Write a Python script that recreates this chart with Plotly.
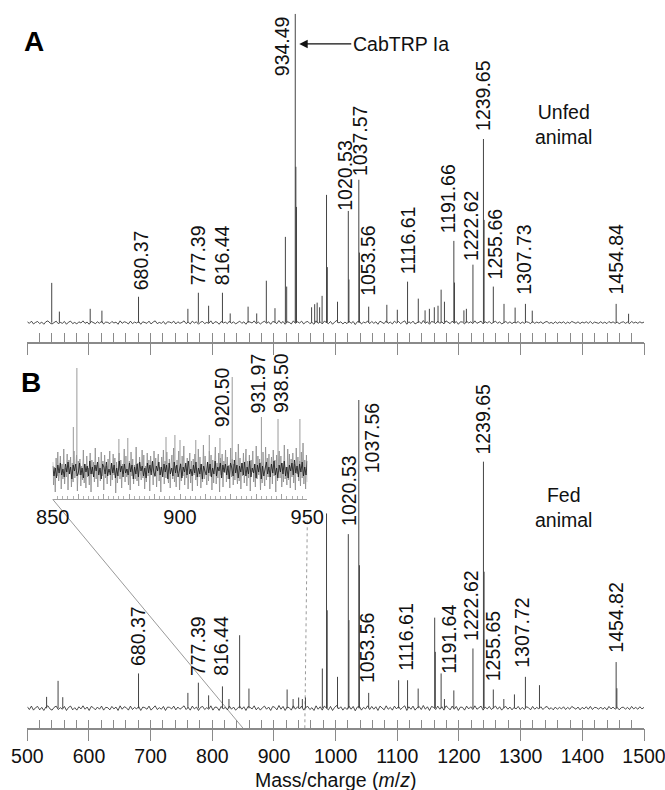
import plotly.graph_objects as go
import numpy as np

# ---------------- DATA ----------------
# Panel A (unfed animal): peak m/z and relative intensity (934.49 = 100)
a_peak_mz = [539.6, 552, 602, 621, 680.37, 760.4, 777.39, 794, 816.44, 829, 858, 872, 887.6, 901.6,
             918.5, 920.6, 934.49, 935.5, 936.5, 961, 966, 970, 974, 978, 985.2, 986.5, 1003,
             1020.53, 1021.5, 1037.57, 1038.6, 1053.56, 1083, 1100, 1116.61, 1134, 1145, 1152,
             1160, 1166, 1171, 1176.4, 1191.66, 1192.7, 1208, 1212, 1222.62, 1239.65, 1240.7,
             1255.66, 1273, 1291, 1307.73, 1318.8, 1454.84, 1475]
a_peak_int = [12.9, 3.6, 4.5, 3.9, 8.4, 4.5, 9.7, 5.5, 9.7, 3.0, 5.2, 3.0, 13.6, 4.7,
              27.8, 11.7, 100, 50.5, 37.5, 5.0, 6.0, 6.5, 5.0, 8.7, 41.4, 18.0, 6.8,
              36.2, 14.0, 46.3, 22.7, 5.2, 5.8, 4.2, 13.3, 7.8, 4.0, 4.5,
              5.0, 5.5, 10.7, 6.8, 26.5, 13.0, 4.0, 4.5, 18.8, 59.5, 33.3,
              11.7, 6.1, 4.9, 6.1, 3.9, 6.1, 2.9]
a_labels = ["680.37", "777.39", "816.44", "934.49", "1020.53", "1037.57", "1053.56",
            "1116.61", "1191.66", "1222.62", "1239.65", "1255.66", "1307.73", "1454.84"]

# Panel B (fed animal): peak m/z and relative intensity (1037.56 = 100)
b_peak_mz = [531.3, 549.9, 557.5, 680.37, 760.4, 777.39, 794, 816.44, 827, 844.3, 859.4, 921.3,
             931, 940, 946, 951, 978.4, 985.2, 986.3, 1003, 1020.53, 1021.5, 1037.56, 1038.6,
             1053.56, 1102.1, 1116.61, 1133.8, 1160.6, 1161.6, 1171, 1176.4, 1191.64, 1222.62,
             1239.65, 1240.7, 1255.65, 1272.7, 1289.9, 1307.72, 1330.5, 1454.82, 1456]
b_peak_int = [3.7, 8.9, 3.6, 11.3, 5.0, 8.3, 4.2, 7.1, 3.0, 23.7, 6.4, 6.1,
              3.0, 3.5, 3.0, 3.5, 12.9, 63.2, 31.8, 10.2, 56.5, 28.6, 100, 46.4,
              5.0, 9.1, 9.1, 6.4, 29.4, 18.3, 11.3, 3.0, 5.8, 19.4,
              80.0, 44.3, 6.1, 3.0, 4.5, 10.2, 7.5, 15.0, 6.5]
b_labels = ["680.37", "777.39", "816.44", "1020.53", "1037.56", "1053.56", "1116.61",
            "1191.64", "1222.62", "1239.65", "1255.65", "1307.72", "1454.82"]

# Inset of panel B (850-950 m/z, expanded intensity)
inset_peak_mz = [858.1, 859.5, 876, 879.5, 894.5, 898, 900, 906.2, 911.5, 915.7, 920.5, 931.97, 938.5, 947.1]
inset_peak_int = [43, 102, 31, 32, 33, 35, 30, 30, 35, 32, 93, 53, 51, 51]
inset_labels = ["920.50", "931.97", "938.50"]

a_noise = [
 0.3,-0.2,0.5,-0.4,0.1,0.4,-0.3,0.2,-0.5,0.3,0.6,-0.1,-0.4,0.2,0.5,-0.3,0.1,-0.2,0.4,-0.5,
 0.2,0.5,-0.3,0.1,-0.4,0.3,-0.1,0.6,-0.2,0.2,-0.5,0.4,0.1,-0.3,0.3,-0.2,0.5,-0.4,0.2,0.1,
 -0.3,0.4,-0.1,0.2,-0.5,0.6,-0.2,0.3,0.1,-0.4,0.5,-0.3,0.2,-0.1,0.4,-0.5,0.3,0.1,-0.2,0.5,
 -0.4,0.2,0.6,-0.3,0.1,-0.2,0.4,-0.5,0.3,0.2,-0.1,0.5,-0.4,0.3,-0.2,0.1,0.6,-0.3,0.2,-0.4,
 0.5,-0.1,0.3,-0.5,0.2,0.4,-0.3,0.1,-0.2,0.6,-0.4,0.3,0.2,-0.5,0.4,-0.1,0.2,-0.3,0.5,-0.2,
 0.3,-0.4,0.1,0.5,-0.2,0.3,-0.5,0.4,0.2,-0.1,0.6,-0.3,0.2,-0.4,0.1,0.5,-0.2,0.3,-0.5,0.4,
 0.2,-0.3,0.7,-0.2,0.4,-0.5,0.3,0.1,-0.4,0.6,-0.2,0.3,-0.1,0.5,-0.4,0.2,0.4,-0.3,0.1,-0.5,
 0.6,-0.2,0.3,-0.4,0.5,0.1,-0.3,0.4,-0.5,0.2,0.7,-0.1,0.3,-0.4,0.2,-0.3,0.5,-0.2,0.4,-0.6,
 0.3,0.5,-0.4,0.2,-0.1,0.6,-0.3,0.4,-0.2,0.3,-0.5,0.5,0.1,-0.3,0.6,-0.2,0.2,-0.4,0.5,-0.1,
 0.4,-0.3,0.2,0.6,-0.5,0.3,-0.2,0.5,-0.4,0.1,0.4,-0.3,0.7,-0.2,0.3,-0.5,0.4,0.2,-0.3,0.5,
 -0.2,0.3,-0.4,0.6,0.1,-0.3,0.5,-0.2,0.4,-0.5,0.3,0.2,-0.4,0.5,-0.1,0.3,-0.3,0.6,-0.2,0.2,
 0.5,-0.4,0.3,-0.1,0.4,-0.3,0.2,0.5,-0.2,0.3,-0.4,0.1,0.4,-0.2,0.3,-0.3,0.2,-0.1,0.4,-0.3,
 0.2,-0.2,0.3,0.1,-0.3,0.4,-0.2,0.2,-0.1,0.3,-0.3,0.2,0.4,-0.2,0.1,-0.3,0.3,-0.2,0.2,-0.1,
 0.3,-0.3,0.2,-0.2,0.4,0.1,-0.2,0.3,-0.3,0.2,-0.1,0.3,-0.2,0.4,-0.3,0.2,0.1,-0.2,0.3,-0.2,
 0.2,-0.3,0.4,-0.1,0.3,-0.2,0.2,-0.3,0.1,0.3,-0.2,0.2,-0.3,0.4,-0.1,0.2,-0.2,0.3,-0.1,0.2]
b_noise = [
 0.5,-0.4,0.7,-0.6,0.2,0.6,-0.5,0.3,-0.7,0.4,0.8,-0.2,-0.6,0.3,0.7,-0.4,0.2,-0.3,0.6,-0.7,
 0.3,0.7,-0.5,0.2,-0.6,0.5,-0.2,0.8,-0.3,0.4,-0.7,0.6,0.2,-0.5,0.4,-0.3,0.7,-0.6,0.3,0.2,
 -0.5,0.6,-0.2,0.4,-0.7,0.8,-0.3,0.5,0.2,-0.6,0.7,-0.4,0.3,-0.2,0.6,-0.7,0.4,0.2,-0.3,0.7,
 -0.6,0.3,0.8,-0.4,0.2,-0.3,0.6,-0.7,0.4,0.3,-0.2,0.7,-0.5,0.4,-0.3,0.2,0.8,-0.4,0.3,-0.6,
 0.7,-0.2,0.4,-0.7,0.3,0.6,-0.4,0.2,-0.3,0.8,-0.6,0.4,0.3,-0.7,0.6,-0.2,0.3,-0.5,0.7,-0.3,
 0.4,-0.6,0.2,0.7,-0.3,0.5,-0.7,0.6,0.3,-0.2,0.8,-0.5,0.3,-0.6,0.2,0.7,-0.3,0.4,-0.7,0.6,
 0.3,-0.5,0.9,-0.3,0.6,-0.7,0.4,0.2,-0.6,0.8,-0.3,0.5,-0.2,0.7,-0.6,0.3,0.6,-0.4,0.2,-0.7,
 0.8,-0.3,0.5,-0.6,0.7,0.2,-0.5,0.6,-0.7,0.3,0.9,-0.2,0.5,-0.6,0.3,-0.4,0.7,-0.3,0.6,-0.8,
 0.4,0.7,-0.6,0.3,-0.2,0.8,-0.4,0.6,-0.3,0.5,-0.7,0.7,0.2,-0.5,0.8,-0.3,0.3,-0.6,0.7,-0.2,
 0.6,-0.4,0.3,0.8,-0.7,0.5,-0.3,0.7,-0.6,0.2,0.6,-0.4,0.9,-0.3,0.5,-0.7,0.6,0.3,-0.4,0.7,
 -0.3,0.5,-0.6,0.8,0.2,-0.5,0.7,-0.3,0.6,-0.7,0.4,0.3,-0.6,0.7,-0.2,0.5,-0.4,0.8,-0.3,0.3,
 0.7,-0.6,0.4,-0.2,0.6,-0.4,0.3,0.7,-0.3,0.5,-0.6,0.2,0.6,-0.3,0.4,-0.5,0.3,-0.2,0.6,-0.4,
 0.3,-0.4,0.5,0.2,-0.5,0.6,-0.3,0.3,-0.2,0.5,-0.4,0.3,0.6,-0.3,0.2,-0.5,0.4,-0.3,0.3,-0.2,
 0.5,-0.4,0.3,-0.3,0.6,0.2,-0.3,0.4,-0.5,0.3,-0.2,0.5,-0.3,0.6,-0.4,0.3,0.2,-0.3,0.4,-0.3,
 0.3,-0.5,0.6,-0.2,0.4,-0.3,0.3,-0.5,0.2,0.4,-0.3,0.3,-0.4,0.6,-0.2,0.3,-0.3,0.5,-0.2,0.3]
# inset: outer grey noise envelope and dense dark core
inset_noise = [
 8,-15,3,-22,12,-6,18,-11,-3,14,-19,6,-9,21,-14,2,-7,16,-20,10,
 -4,13,-17,7,-12,19,-8,-1,15,-21,9,-5,11,-16,4,-10,20,-13,6,-18,
 14,-7,2,-15,17,-22,10,-4,8,-12,22,-9,5,-17,13,-3,-11,18,-6,9,
 -20,15,-8,4,-14,11,-2,19,-16,7,-10,16,-5,12,-23,8,-13,3,17,-9,
 10,-18,6,-4,21,-12,14,-7,1,-15,9,-20,18,-6,11,-14,5,-9,23,-11,
 7,-16,13,-3,-10,20,-8,15,-19,4,-12,17,-6,10,-21,14,-2,8,-15,19,
 -7,12,-17,5,16,-11,3,-22,13,-5,20,-14,9,-8,18,-4,-13,11,-18,6,
 15,-9,22,-12,4,-17,10,-3,19,-20,7,-11,14,-6,24,-15,5,-8,12,-19,
 3,17,-13,9,-21,11,-5,16,-10,2,-16,21,-7,13,-18,6,-12,25,-9,14,
 -4,-15,8,-11,19,-6,15,-20,10,-13,4,23,-14,7,-8,17,-22,12,-5,16,
 -17,9,-3,20,-12,13,-9,5,-18,22,-7,11,-15,6,-10,18,-4,-14,26,-11,
 12,-19,7,-6,17,-13,3,21,-16,9,-8,15,-21,10,-2,19,-12,6,-17,24,
 -9,14,-5,11,-20,8,-13,18,-3,-16,23,-10,12,-7,16,-19,4,13,-14,20,
 -6,10,-22,15,-11,5,19,-8,14,-17,7,-12,25,-9,3,-15,21,-10,16,-18,
 11,-7,17,-13,6,-20,22,-4,13,-11,9,-16,18,-8,27,-14,10,-19,15,-12]
inset_core = [
 4,-6,2,-8,5,-3,7,-5,1,-7,6,-2,8,-4,3,-9,5,-1,6,-6,
 -3,7,-5,2,-8,6,-2,4,-6,9,-4,3,-7,5,-1,8,-5,2,-9,6,
 3,-4,8,-6,1,-5,7,-3,5,-8,2,-6,9,-2,4,-7,6,-3,1,-5,
 7,-2,5,-9,3,-4,6,-7,8,-1,4,-6,2,-8,7,-3,5,-5,9,-2,
 -6,4,-1,8,-5,3,-7,6,-2,5,-9,7,-4,2,-6,8,-3,5,-7,1,
 6,-8,3,-2,7,-5,9,-4,1,-6,5,-3,8,-7,2,-4,6,-9,4,-1,
 -5,8,-3,6,-7,2,-4,9,-6,3,-1,7,-8,5,-2,6,-5,4,-9,7,
 2,-6,10,-3,5,-8,4,-2,7,-5,8,-6,3,-4,9,-7,2,-3,6,-8,
 5,-2,7,-9,4,-6,1,8,-4,3,-7,6,-3,9,-5,2,-8,5,-2,7,
 -4,9,-6,3,-8,5,-1,7,-5,10,-3,4,-7,6,-2,8,-6,3,-5,9]

main_tick_vals = [500, 600, 700, 800, 900, 1000, 1100, 1200, 1300, 1400, 1500]
main_tick_text = ["500", "600", "700", "800", "900", "1000", "1100", "1200", "1300", "1400", "1500"]
inset_tick_vals = [850, 860, 870, 880, 890, 900, 910, 920, 930, 940, 950]
inset_tick_text = ["850", "", "", "", "", "900", "", "", "", "", "950"]

# ---------------- LAYOUT / STYLE ----------------
W, H = 665, 790
FONT = "Liberation Sans, Arial, Helvetica, sans-serif"
MAIN_RANGE = [500, 1500]
INSET_RANGE = [850, 950]
main_dom = [27.3 / W, 644 / W]
inset_dom = [52.7 / W, 307.3 / W]
ydom_a = [1 - 341.7 / H, 1 - 5 / H]
ydom_b = [1 - 728.3 / H, 1 - 370 / H]
ydom_i = [1 - 499.3 / H, 1 - 360 / H]
yr_a = [-6.15, 102.9]
yr_b = [-6.49, 109.73]
yr_i = [-29.3, 110]

AXC = "#8a8a8a"
STICK = "#444444"

# label offsets (pixels): xshift, yshift, yanchor
a_label_style = {"680.37": (2, 4), "777.39": (-1, 6), "816.44": (-1, 6), "934.49": (-13, 0, "top"),
                 "1020.53": (-3, -2), "1037.57": (1, 2), "1053.56": (-1, 9), "1116.61": (0, 5),
                 "1191.66": (-5, 6), "1222.62": (-2, 2), "1239.65": (-1, 6), "1255.66": (2, 5),
                 "1307.73": (-1, 7), "1454.84": (0, 7)}
b_label_style = {"680.37": (0, 5), "777.39": (-1, 5), "816.44": (-1, 9), "1020.53": (0, 6),
                 "1037.56": (13, 0, "top"), "1053.56": (-1, 8), "1116.61": (-1, 7),
                 "1191.64": (-5, 15), "1222.62": (-2, 6), "1239.65": (0, 5), "1255.65": (0, 6),
                 "1307.72": (-3, 7), "1454.82": (-1, 7)}
i_label_style = {"920.50": (-10, 12, "top"), "931.97": (-3, 2), "938.50": (3, 4)}


def sticks(mz, inten):
    xs, ys = [], []
    for m, h in zip(mz, inten):
        xs += [m, m, None]
        ys += [0, h, None]
    return xs, ys


def label_annots(labels, pmz, pint, xref, yref, style, size):
    out = []
    arr = np.array(pmz)
    for t in labels:
        i = int(np.argmin(np.abs(arr - float(t))))
        st = style.get(t, (0, 5))
        yanchor = st[2] if len(st) > 2 else "bottom"
        out.append(dict(x=pmz[i], y=pint[i], xref=xref, yref=yref, text=t, showarrow=False,
                        textangle=-90, xanchor="center", yanchor=yanchor,
                        xshift=st[0], yshift=st[1],
                        font=dict(family=FONT, size=size, color="#111")))
    return out


fig = go.Figure()

# Panel A
fig.add_trace(go.Scatter(x=np.linspace(MAIN_RANGE[0], MAIN_RANGE[1], len(a_noise)), y=a_noise,
                         mode="lines", line=dict(color="#222", width=0.8), xaxis="x", yaxis="y",
                         hoverinfo="skip", showlegend=False))
sx, sy = sticks(a_peak_mz, a_peak_int)
fig.add_trace(go.Scatter(x=sx, y=sy, mode="lines", line=dict(color=STICK, width=1),
                         xaxis="x", yaxis="y", showlegend=False))
fig.add_trace(go.Scatter(x=[], y=[], xaxis="x4", yaxis="y", showlegend=False))

# Panel B
fig.add_trace(go.Scatter(x=np.linspace(MAIN_RANGE[0], MAIN_RANGE[1], len(b_noise)), y=b_noise,
                         mode="lines", line=dict(color="#222", width=0.8), xaxis="x2", yaxis="y2",
                         hoverinfo="skip", showlegend=False))
sx, sy = sticks(b_peak_mz, b_peak_int)
fig.add_trace(go.Scatter(x=sx, y=sy, mode="lines", line=dict(color=STICK, width=1),
                         xaxis="x2", yaxis="y2", showlegend=False))
fig.add_trace(go.Scatter(x=[], y=[], xaxis="x5", yaxis="y2", showlegend=False))

# Inset
fig.add_trace(go.Scatter(x=np.linspace(INSET_RANGE[0], INSET_RANGE[1], len(inset_noise)), y=inset_noise,
                         mode="lines", line=dict(color="#8c8c8c", width=0.8), xaxis="x3", yaxis="y3",
                         hoverinfo="skip", showlegend=False))
sx, sy = sticks(inset_peak_mz, inset_peak_int)
fig.add_trace(go.Scatter(x=sx, y=sy, mode="lines", line=dict(color="#9a9a9a", width=1),
                         xaxis="x3", yaxis="y3", showlegend=False))
fig.add_trace(go.Scatter(x=np.linspace(INSET_RANGE[0], INSET_RANGE[1], len(inset_core)), y=inset_core,
                         mode="lines", line=dict(color="#151515", width=0.8), xaxis="x3", yaxis="y3",
                         hoverinfo="skip", showlegend=False))

minor_axis = dict(range=MAIN_RANGE, domain=main_dom, showline=True, linecolor=AXC, linewidth=1.6,
                  ticks="inside", tick0=500, dtick=20, ticklen=9, tickwidth=1.3, tickcolor=AXC,
                  showticklabels=False, showgrid=False, zeroline=False, fixedrange=True,
                  automargin=False)
major_axis = dict(range=MAIN_RANGE, showline=False, tickmode="array", tickvals=main_tick_vals,
                  ticktext=main_tick_text, ticks="outside", ticklen=12, tickwidth=1.3, tickcolor=AXC,
                  showgrid=False, zeroline=False, automargin=False, ticklabeloverflow="allow")

fig.update_layout(
    template="none",
    width=W, height=H, autosize=False,
    margin=dict(l=0, r=0, t=0, b=0, pad=0, autoexpand=False),
    paper_bgcolor="white", plot_bgcolor="rgba(0,0,0,0)",
    font=dict(family=FONT, size=19, color="#111"),
    showlegend=False,
    xaxis=dict(minor_axis, anchor="y"),
    xaxis4=dict(major_axis, overlaying="x", anchor="y", showticklabels=False),
    xaxis2=dict(minor_axis, anchor="y2"),
    xaxis5=dict(major_axis, overlaying="x2", anchor="y2", showticklabels=True, ticklabelstandoff=-2,
                tickfont=dict(family=FONT, size=19.5, color="#111")),
    xaxis3=dict(range=INSET_RANGE, domain=inset_dom, anchor="y3", showline=True, linecolor="#a0a0a0",
                linewidth=1.2, tickmode="array", tickvals=inset_tick_vals, ticktext=inset_tick_text,
                ticks="inside", ticklen=5, tickwidth=1, tickcolor="#a0a0a0",
                minor=dict(dtick=2, tick0=850, ticks="inside", ticklen=3, tickcolor="#b0b0b0", tickwidth=1),
                tickfont=dict(family=FONT, size=20, color="#111"), ticklabeloverflow="allow",
                showgrid=False, zeroline=False, automargin=False),
    yaxis=dict(domain=ydom_a, range=yr_a, visible=False, fixedrange=True, automargin=False),
    yaxis2=dict(domain=ydom_b, range=yr_b, visible=False, fixedrange=True, automargin=False),
    yaxis3=dict(domain=ydom_i, range=yr_i, visible=False, fixedrange=True, automargin=False),
)


def xpaper(dom, rng, v):
    return dom[0] + (v - rng[0]) / (rng[1] - rng[0]) * (dom[1] - dom[0])


# zoom connector lines (inset -> main axis)
fig.add_shape(type="line", xref="paper", yref="paper",
              x0=xpaper(inset_dom, INSET_RANGE, 850), y0=ydom_i[0],
              x1=xpaper(main_dom, MAIN_RANGE, 850), y1=ydom_b[0],
              line=dict(color="#9a9a9a", width=1), layer="below")
fig.add_shape(type="line", xref="paper", yref="paper",
              x0=xpaper(inset_dom, INSET_RANGE, 950), y0=ydom_i[0] - 22 / H,
              x1=xpaper(main_dom, MAIN_RANGE, 950), y1=ydom_b[0],
              line=dict(color="#9a9a9a", width=1, dash="dot"), layer="below")

annots = []
annots += label_annots(a_labels, a_peak_mz, a_peak_int, "x", "y", a_label_style, 19.5)
annots += label_annots(b_labels, b_peak_mz, b_peak_int, "x2", "y2", b_label_style, 19.5)
annots += label_annots(inset_labels, inset_peak_mz, inset_peak_int, "x3", "y3", i_label_style, 19.5)

annots += [
    dict(x=34 / W, y=1 - 41 / H, xref="paper", yref="paper", text="<b>A</b>", showarrow=False,
         font=dict(family=FONT, size=28, color="#000"), xanchor="center", yanchor="middle"),
    dict(x=30.5 / W, y=1 - 382.5 / H, xref="paper", yref="paper", text="<b>B</b>", showarrow=False,
         font=dict(family=FONT, size=28, color="#000"), xanchor="center", yanchor="middle"),
    dict(x=563 / W, y=1 - 124.5 / H, xref="paper", yref="paper", text="Unfed<br>animal",
         showarrow=False, font=dict(family=FONT, size=19.5, color="#111"),
         xanchor="center", yanchor="middle"),
    dict(x=563 / W, y=1 - 507.5 / H, xref="paper", yref="paper", text="Fed<br>animal",
         showarrow=False, font=dict(family=FONT, size=19.5, color="#111"),
         xanchor="center", yanchor="middle"),
    dict(x=sum(main_dom) / 2, y=1 - 780 / H, xref="paper", yref="paper",
         text="Mass/charge (<i>m</i>/<i>z</i>)", showarrow=False,
         font=dict(family=FONT, size=19.5, color="#111"), xanchor="center", yanchor="middle"),
    dict(x=934.49, y=90.3, xref="x", yref="y", text="CabTRP Ia", showarrow=True,
         ax=52, ay=0, axref="pixel", ayref="pixel", xshift=4, xanchor="left", yanchor="middle",
         arrowhead=2, arrowsize=1.3, arrowwidth=1.3, arrowcolor="#111",
         font=dict(family=FONT, size=19.5, color="#111")),
]
fig.update_layout(annotations=annots)

fig.write_html("out.html", config={"responsive": False, "displayModeBar": False},
               post_script="document.body.style.margin='0';document.body.style.overflow='hidden';")
